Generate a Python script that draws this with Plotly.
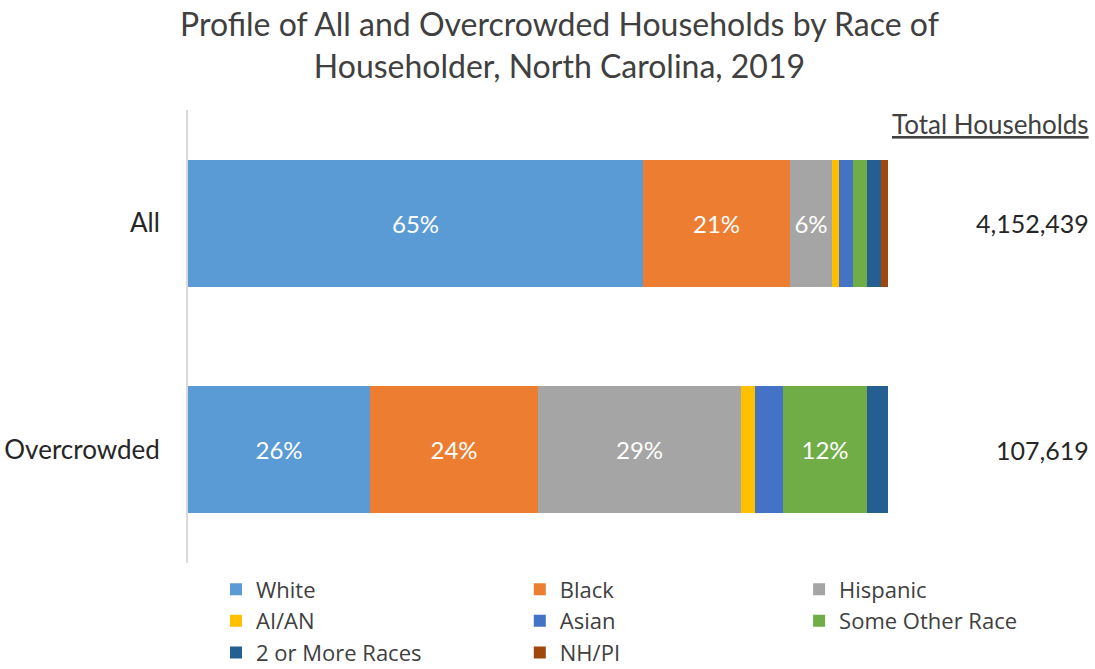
import plotly.graph_objects as go

# Household shares (%) by race of householder
groups = ["All", "Overcrowded"]
races = ["White", "Black", "Hispanic", "AI/AN", "Asian",
         "Some Other Race", "2 or More Races", "NH/PI"]
shares = {
    "White":           [65, 26],
    "Black":           [21, 24],
    "Hispanic":        [6, 29],
    "AI/AN":           [1, 2],
    "Asian":           [2, 4],
    "Some Other Race": [2, 12],
    "2 or More Races": [2, 3],
    "NH/PI":           [1, 0],
}
totals = ["4,152,439", "107,619"]

colors = {
    "White": "#5B9BD5",
    "Black": "#ED7D31",
    "Hispanic": "#A5A5A5",
    "AI/AN": "#FFC000",
    "Asian": "#4472C4",
    "Some Other Race": "#70AD47",
    "2 or More Races": "#255E91",
    "NH/PI": "#9E480E",
}

# legend laid out in three columns, filled row by row
legend_of = {
    "White": "legend", "Black": "legend2", "Hispanic": "legend3",
    "AI/AN": "legend", "Asian": "legend2", "Some Other Race": "legend3",
    "2 or More Races": "legend", "NH/PI": "legend2",
}

FONT = "Lato"
TXT = "#404040"

fig = go.Figure()
for r in races:
    vals = shares[r]
    labels = [f"{v}%" if v >= 5 else "" for v in vals]
    fig.add_trace(go.Bar(
        name=r, y=groups, x=vals, orientation="h",
        marker=dict(color=colors[r], line=dict(width=0)),
        text=labels, textposition="inside", insidetextanchor="middle",
        textfont=dict(color="white", size=24, family=FONT),
        legend=legend_of[r],
        hoverinfo="x+name",
    ))

# Title
fig.add_annotation(x=0.531, y=1.144, xref="paper", yref="paper",
                   text="Profile of All and Overcrowded Households by Race of<br>Householder, North Carolina, 2019",
                   showarrow=False, xanchor="center", yanchor="middle",
                   font=dict(size=32, color=TXT, family=FONT))

# Total households column on the right
fig.add_annotation(x=1.29, y=0.969, xref="paper", yref="paper",
                   text="<u>Total Households</u>", showarrow=False,
                   xanchor="right", yanchor="middle",
                   font=dict(size=26, color=TXT, family=FONT))
for g, t in zip(groups, totals):
    fig.add_annotation(x=1.29, y=g, xref="paper", yref="y",
                       text=t, showarrow=False, xanchor="right",
                       font=dict(size=25, color="#262626", family=FONT))

leg_common = dict(orientation="v", y=-0.012, yanchor="top", xanchor="left",
                  traceorder="normal", tracegroupgap=0,
                  font=dict(size=22, color=TXT, family="Open Sans"),
                  bgcolor="rgba(0,0,0,0)")

fig.update_layout(
    width=1095, height=669,
    barmode="stack", bargap=0.44,
    paper_bgcolor="white", plot_bgcolor="white",
    margin=dict(l=188, r=207, t=110, b=106, autoexpand=False),
    xaxis=dict(range=[0, 100], visible=False, fixedrange=True),
    yaxis=dict(autorange="reversed", showline=True, linecolor="#D9D9D9",
               linewidth=2, ticks="", ticklabelstandoff=21,
               tickfont=dict(size=26, color="#262626", family=FONT)),
    legend=dict(x=0.04, **leg_common),
    legend2=dict(x=0.474, **leg_common),
    legend3=dict(x=0.873, **leg_common),
    showlegend=True,
)

fig.write_html("out.html")
